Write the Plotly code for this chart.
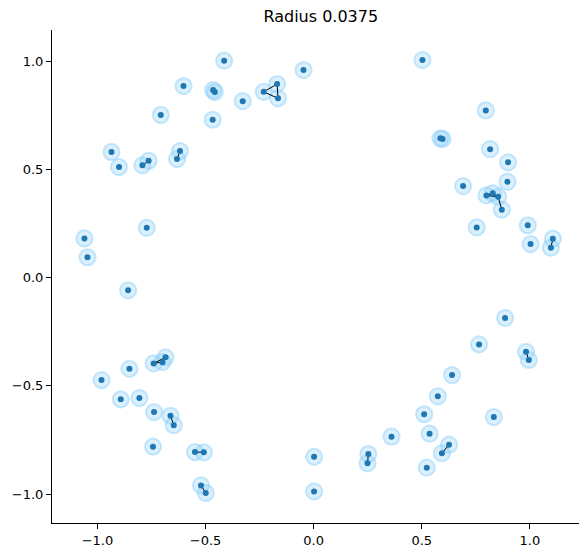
import plotly.graph_objects as go
import numpy as np

RADIUS = 0.0375
TITLE = "Radius 0.0375"

px_x = [-0.414, -0.047, 0.503, -0.602, -0.465, -0.457, -0.328, -0.231, -0.169, -0.165,
        -0.467, -0.707, -0.935, -0.900, -0.792, -0.763, -0.632, -0.618, 0.796, 0.586,
        0.596, 0.816, 0.899, 0.691, 0.896, 0.799, 0.828, 0.853, 0.870, 0.754,
        0.990, 1.003, 1.106, 1.097, 0.885, 0.765, 0.982, 0.995, -0.772, -1.060,
        -1.046, -0.858, -0.981, -0.852, -0.740, -0.699, -0.685, -0.892, -0.806, -0.738,
        -0.662, -0.647, -0.743, -0.549, -0.508, -0.521, -0.499, 0.640, 0.574, 0.511,
        0.536, 0.360, 0.626, 0.593, 0.523, 0.253, 0.249, 0.002, 0.002, 0.833]
px_y = [1.004, 0.961, 1.007, 0.887, 0.868, 0.859, 0.817, 0.860, 0.896, 0.830,
        0.731, 0.753, 0.582, 0.512, 0.520, 0.541, 0.549, 0.586, 0.774, 0.645,
        0.642, 0.595, 0.534, 0.424, 0.444, 0.381, 0.391, 0.375, 0.315, 0.233,
        0.243, 0.156, 0.181, 0.139, -0.186, -0.308, -0.342, -0.380, 0.231, 0.182,
        0.095, -0.058, -0.473, -0.421, -0.396, -0.390, -0.368, -0.562, -0.556, -0.621,
        -0.638, -0.682, -0.781, -0.806, -0.807, -0.960, -0.995, -0.450, -0.548, -0.631,
        -0.721, -0.735, -0.772, -0.812, -0.878, -0.815, -0.858, -0.828, -0.988, -0.644]

tick_vals = [-1.0, -0.5, 0.0, 0.5, 1.0]

X = np.array(px_x)
Y = np.array(px_y)
n = len(X)

# edges where balls overlap
ex, ey = [], []
for i in range(n):
    for j in range(i + 1, n):
        if np.hypot(X[i] - X[j], Y[i] - Y[j]) < 2 * RADIUS:
            ex += [X[i], X[j], None]
            ey += [Y[i], Y[j], None]

shapes = []
for x, y in zip(X, Y):
    shapes.append(dict(type="circle", xref="x", yref="y",
                       x0=x - RADIUS, x1=x + RADIUS, y0=y - RADIUS, y1=y + RADIUS,
                       fillcolor="rgba(135,206,250,0.3)",
                       line=dict(color="rgba(135,206,250,0.45)", width=2),
                       layer="below"))

fig = go.Figure()
fig.add_trace(go.Scatter(x=ex, y=ey, mode="lines",
                         line=dict(color="black", width=1), hoverinfo="skip",
                         showlegend=False))
fig.add_trace(go.Scatter(x=X, y=Y, mode="markers",
                         marker=dict(color="#1f77b4", size=6, line=dict(width=0)),
                         showlegend=False))

axis_common = dict(showgrid=False, zeroline=False, showline=True, linecolor="black",
                   linewidth=1, ticks="outside", ticklen=5, tickwidth=1, tickcolor="black",
                   tickvals=tick_vals, tickformat=".1f",
                   tickfont=dict(family="DejaVu Sans", size=13, color="black"),
                   automargin=False, fixedrange=True)

fig.update_layout(
    width=579, height=548,
    margin=dict(l=52, r=0, t=30, b=25),
    paper_bgcolor="white", plot_bgcolor="white",
    shapes=shapes,
    title=dict(text=TITLE, x=0.51, xref="paper", xanchor="center",
               y=1 - 16.7 / 548, yref="container", yanchor="middle",
               font=dict(family="DejaVu Sans", size=16, color="black")),
    xaxis=dict(range=[-1.21, 1.227], **axis_common),
    yaxis=dict(range=[-1.134, 1.146], **axis_common),
)

fig.write_html("out.html", config={"displayModeBar": False},
               post_script="document.body.style.margin='0';document.body.style.overflow='hidden';")
